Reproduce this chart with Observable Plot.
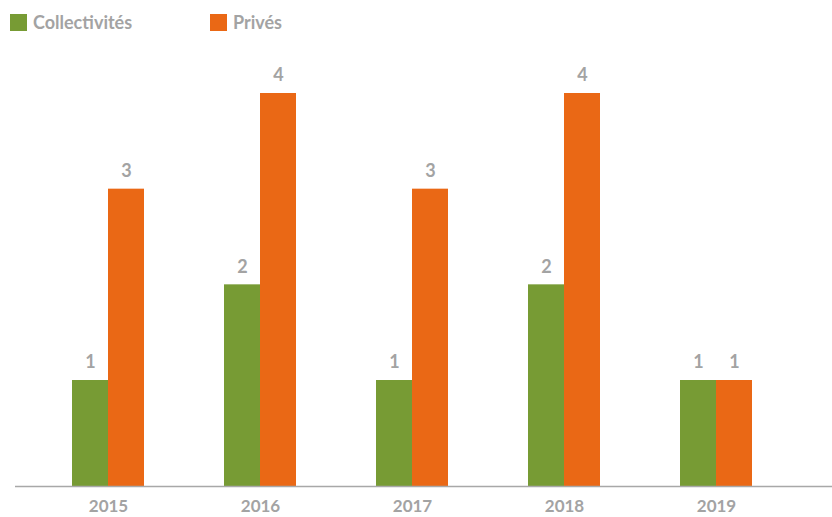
<!DOCTYPE html>
<html><head><meta charset="utf-8">
<script src="https://cdn.jsdelivr.net/npm/d3@7"></script>
<script src="https://cdn.jsdelivr.net/npm/@observablehq/plot@0.6"></script>
<style>
body{margin:0;background:#fff;font-family:Lato,sans-serif;}
#legend{height:40px;position:relative;font-weight:700;font-size:18px;color:#a3a3a3;}
.item{position:absolute;top:13px;display:flex;align-items:center;line-height:18px;}
.sw{width:17px;height:17px;margin-right:6px;}
</style></head><body>
<div id="legend"></div>
<div id="chart"></div>
<script>
const years = ["2015","2016","2017","2018","2019"];
const series = ["Collectivités","Privés"];
const collectivites = [1,2,1,2,1];
const prives = [3,4,3,4,1];
const colors = ["#779b34","#ea6815"];

const legend = document.getElementById("legend");
[[10,0],[210,1]].forEach(([x,i])=>{
  const d=document.createElement("div");d.className="item";d.style.left=x+"px";
  d.innerHTML=`<span class="sw" style="background:${colors[i]}"></span><span>${series[i]}</span>`;
  legend.appendChild(d);
});

const data = years.flatMap((y,i)=>[
  {year:y, serie:series[0], value:collectivites[i]},
  {year:y, serie:series[1], value:prives[i]}
]);
const coll = data.filter(d=>d.serie===series[0]);
const priv = data.filter(d=>d.serie===series[1]);
const gray="#a3a3a3";
const yMin = -0.108; // axis line sits slightly below zero in the reference
const chart = Plot.plot({
  width:832, height:477,
  marginLeft:15, marginRight:0, marginTop:53, marginBottom:31,
  x:{domain:years, range:[31,792], paddingInner:0.527, paddingOuter:0.2635, label:null},
  y:{domain:[yMin,4], axis:null},
  style:{fontFamily:"Lato, sans-serif"},
  marks:[
    Plot.barY(coll,{x:"year", y1:yMin, y2:"value", fill:colors[0], insetRight:36, insetLeft:0}),
    Plot.barY(priv,{x:"year", y1:yMin, y2:"value", fill:colors[1], insetLeft:36, insetRight:0}),
    Plot.text(coll,{x:"year", y:"value", text:"value", dx:-18, dy:-18, fill:gray, fontSize:18, fontWeight:700}),
    Plot.text(priv,{x:"year", y:"value", text:"value", dx:18, dy:-18, fill:gray, fontSize:18, fontWeight:700}),
    Plot.ruleY([yMin],{stroke:"#a8a8a8", strokeWidth:1.5}),
    Plot.axisX({tickSize:0, tickPadding:13, fontSize:17, fontWeight:700, color:gray, label:null})
  ]
});
document.getElementById("chart").appendChild(chart);
</script>
</body></html>
